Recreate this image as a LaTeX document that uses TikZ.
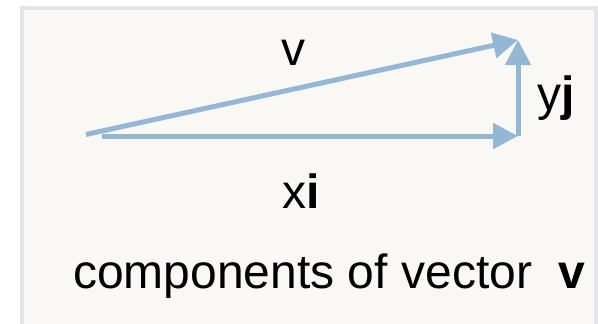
\documentclass[tikz,border=0pt]{standalone}
\usepackage{fontspec}
\setmainfont{Liberation Sans}
\usetikzlibrary{arrows.meta}
\definecolor{vecblue}{HTML}{94B7D6}
\definecolor{framegray}{HTML}{E3E5E8}
\definecolor{paper}{HTML}{F9F8F5}
\begin{document}
\begin{tikzpicture}[x=1pt,y=-1pt,
  vec/.style={draw=vecblue,line width=5pt,-{Triangle[length=25pt,width=25pt]}},
  lbl/.style={anchor=base west,inner sep=0pt,font=\fontsize{48}{52}\selectfont}]
\useasboundingbox (0,0) rectangle (598,324);
\fill[white] (0,0) rectangle (598,324);
\begin{scope}
\clip (0,0) rectangle (598,324);
\draw[framegray,fill=paper,line width=3.5pt] (22,8) rectangle (596,340);
\end{scope}
\coordinate (O) at (86,134.5);
\coordinate (A) at (102,136);
\coordinate (B) at (518,136);
\coordinate (C) at (518,40);
\draw[vec] (O) -- (C);
\draw[vec] (A) -- (B);
\draw[vec] (B) -- (C);
\node[lbl] (lv) at (281,65) {v};
\node[lbl] (lx) at (282,208) {x\textbf{i}};
\node[lbl] (ly) at (537,110) {y\textbf{j}};
\node[lbl] (cap) at (73,288) {components of vector\hspace{26pt}\textbf{v}};
\end{tikzpicture}
\end{document}
